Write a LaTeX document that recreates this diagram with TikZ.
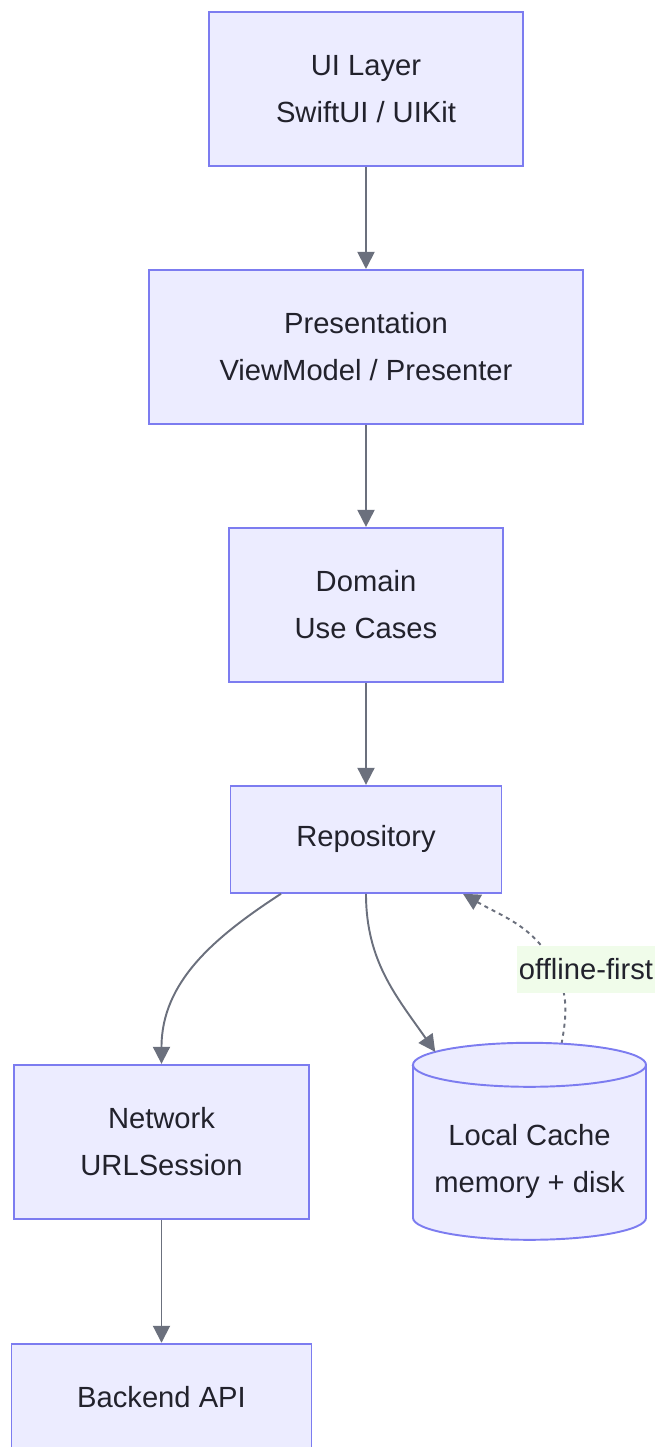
\documentclass[tikz,border=0pt]{standalone}
\usepackage{fontspec}
\setmainfont{Liberation Sans}
\usepackage{tikz}
\usetikzlibrary{arrows.meta,positioning,calc,backgrounds}
\definecolor{boxfill}{RGB}{236,236,255}
\definecolor{boxline}{RGB}{124,124,240}
\definecolor{wire}{RGB}{107,112,125}
\definecolor{ink}{RGB}{34,34,44}
\definecolor{tagbg}{RGB}{240,252,234}
\tikzset{
  layer/.style={draw=boxline, line width=1.1pt, fill=boxfill, align=center, text=ink,
    font=\fontsize{16.6}{26.7}\selectfont, minimum height=3.08cm},
  store/.style={align=center, text=ink, font=\fontsize{16.6}{26.7}\selectfont, minimum width=4.66cm},
  cyl/.style={draw=boxline, line width=1.1pt, fill=boxfill},
  flow/.style={draw=wire, line width=1.1pt, -{Triangle[length=3.4mm,width=3.4mm]}},
  dashedflow/.style={flow, dash pattern=on 2.3pt off 2.3pt},
  tag/.style={fill=tagbg, text=ink, font=\fontsize{16.6}{20}\selectfont,
    inner xsep=1pt, minimum height=0.94cm}
}

\begin{document}
\begin{tikzpicture}
  \useasboundingbox (-7.32,1.78) rectangle (5.90,-27.16);
  \node[layer, minimum width=6.28cm] (ui) at (0,0) {UI Layer\\SwiftUI / UIKit};
  \node[layer, minimum width=8.68cm, below=2.04cm of ui] (pres) {Presentation\\ViewModel / Presenter};
  \node[layer, minimum width=5.48cm, below=2.04cm of pres] (domain) {Domain\\Use Cases};
  \node[layer, minimum width=5.42cm, minimum height=2.14cm, below=2.04cm of domain] (repo) {Repository};
  \node[layer, minimum width=5.9cm] (net) at ($(repo)+(-4.09,-6.05)$) {Network\\URLSession};
  \node[layer, minimum width=6cm, minimum height=2.14cm, below=2.46cm of net] (api) {Backend API};
  % cache cylinder
  \coordinate (ctop) at ($(repo)+(3.27,-4.51)$);
  \coordinate (cbot) at ($(ctop)+(0,-3.06)$);
  \filldraw[cyl] ($(ctop)+(-2.33,0)$) -- ($(cbot)+(-2.33,0)$)
    arc[start angle=180, end angle=360, x radius=2.33cm, y radius=0.44cm]
    -- ($(ctop)+(2.33,0)$)
    arc[start angle=0, end angle=180, x radius=2.33cm, y radius=0.44cm] -- cycle;
  \draw[cyl, fill=none] ($(ctop)+(-2.33,0)$) arc[start angle=180, end angle=360, x radius=2.33cm, y radius=0.44cm];
  \node[store] (cache) at ($(ctop)+(0,-1.93)$) {Local Cache\\memory + disk};

  \draw[flow] (ui) -- (pres);
  \draw[flow] (pres) -- (domain);
  \draw[flow] (domain) -- (repo);
  \draw[flow] (net) -- (api);
  \draw[flow] ($(repo.south)+(-1.7,0)$) to[out=-147, in=90] (net.north);
  \draw[flow] (repo.south) to[out=-90, in=125] ($(ctop)+(144:2.33cm and 0.44cm)$);
  \node[tag] (lbl) at ($(repo)+(4.4,-2.6)$) {offline-first};
  \begin{scope}[on background layer]
    \draw[dashedflow] ($(ctop)+(74:2.33cm and 0.44cm)$) to[out=80, in=-65] ($(lbl.center)+(-0.6,0)$)
      to[out=115, in=-30] ($(repo.south)+(1.94,0)$);
  \end{scope}
\end{tikzpicture}
\end{document}
